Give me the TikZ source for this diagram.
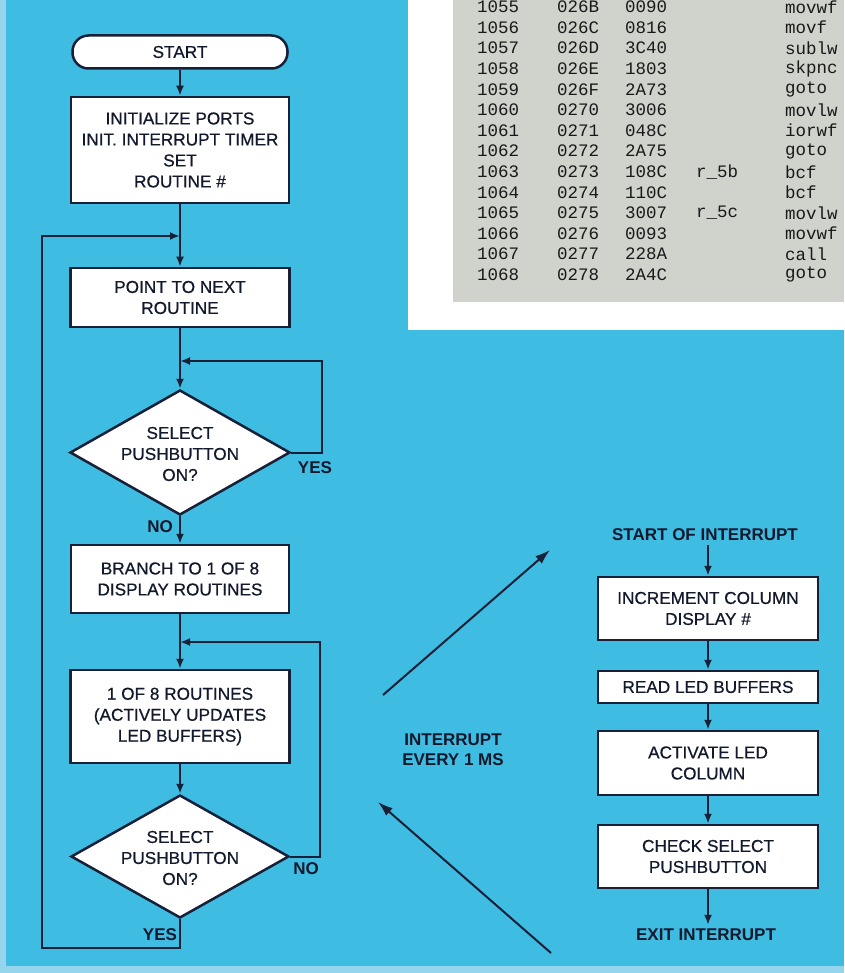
\documentclass[tikz,border=0pt]{standalone}
\usepackage{fontspec}
\setmainfont{Liberation Sans}
\setmonofont{Liberation Mono}
\newfontfamily\boxfam[FakeBold=0.6]{Liberation Sans}
\usetikzlibrary{arrows.meta,shapes.geometric}
\definecolor{bluebg}{RGB}{62,188,226}
\definecolor{bluelite}{RGB}{150,214,236}
\definecolor{ink}{RGB}{24,32,56}
\definecolor{greybox}{RGB}{208,211,204}
\newcommand\boxfont{\fontsize{17.2}{21}\boxfam}
\newcommand\lblfont{\fontsize{17}{20}\selectfont\bfseries}
\newcommand\codefont{\fontsize{17.5}{20}\ttfamily}
\tikzset{
  flowbox/.style={draw=ink, line width=2.5pt, fill=white, align=center, inner sep=0pt, font=\boxfont, text=ink!80!black},
  flowdia/.style={draw=ink, line width=2.5pt, fill=white, shape=diamond, inner sep=0pt},
  diatext/.style={align=center, font=\boxfont, text=ink!80!black},
  conn/.style={draw=ink, line width=2pt},
  arr/.style={conn, -{Latex[length=10pt,width=8pt]}},
  bigarr/.style={conn, -{Latex[length=15pt,width=10pt]}},
  lbl/.style={font=\lblfont, text=ink!80!black, inner sep=1pt},
  code/.style={font=\codefont, text=black!90, anchor=west, inner sep=0pt}
}
\begin{document}
\begin{tikzpicture}[x=1pt,y=-1pt]
\useasboundingbox (0,0) rectangle (844,973);
% backgrounds
\fill[bluebg] (0,0) rectangle (844,973);
\fill[bluelite] (0,0) rectangle (6,973);
\fill[bluelite] (0,966) rectangle (844,973);
\fill[white] (408,0) rectangle (844,330);
\fill[greybox] (453,0) rectangle (844,302);
% code listing
\foreach \i/\a/\b/\c/\l/\m in {0/1055/026B/0090//movwf,1/1056/026C/0816//movf,2/1057/026D/3C40//sublw,3/1058/026E/1803//skpnc,4/1059/026F/2A73//goto,5/1060/0270/3006//movlw,6/1061/0271/048C//iorwf,7/1062/0272/2A75//goto,8/1063/0273/108C/r\_5b/bcf,9/1064/0274/110C//bcf,10/1065/0275/3007/r\_5c/movlw,11/1066/0276/0093//movwf,12/1067/0277/228A//call,13/1068/0278/2A4C//goto}{
  \node[code] (ln\i) at (477,{7+20.6*\i}) {\a};
  \node[code] (ad\i) at (557,{7+20.6*\i}) {\b};
  \node[code] (op\i) at (625,{7+20.6*\i}) {\c};
  \node[code] (lb\i) at (696,{7+20.6*\i}) {\l};
  \node[code] (mn\i) at (785,{7+20.6*\i}) {\m};
}
% left flowchart
\node[flowbox, minimum width=215pt, minimum height=33pt, rounded corners=16pt] (start) at (180,52) {START};
\node[flowbox, minimum width=218pt, minimum height=106pt] (init) at (180,150) {INITIALIZE PORTS\\INIT. INTERRUPT TIMER\\SET\\ROUTINE \#};
\node[flowbox, minimum width=219pt, minimum height=59pt] (point) at (180,297.5) {POINT TO NEXT\\ROUTINE};
\node[flowdia, minimum width=220pt, minimum height=125pt] (d1) at (180,452.5) {};
\node[diatext] (d1t) at (180,454) {SELECT\\PUSHBUTTON\\ON?};
\node[flowbox, minimum width=218pt, minimum height=68pt] (branch) at (180,579) {BRANCH TO 1 OF 8\\DISPLAY ROUTINES};
\node[flowbox, minimum width=219pt, minimum height=93pt] (routines) at (180,716.5) {1 OF 8 ROUTINES\\(ACTIVELY UPDATES\\LED BUFFERS)};
\node[flowdia, minimum width=218pt, minimum height=123pt] (d2) at (180,856.5) {};
\node[diatext] (d2t) at (180,858) {SELECT\\PUSHBUTTON\\ON?};
\node[lbl] (yes1) at (315,468) {YES};
\node[lbl] (no1) at (160,527) {NO};
\node[lbl] (no2) at (306,869) {NO};
\node[lbl] (yes2) at (160,935) {YES};
\coordinate (j0) at (180,236);
\coordinate (j1) at (180,361);
\coordinate (j2) at (180,642);
\coordinate (c1) at (322,361);
\coordinate (c2) at (320,642);
\coordinate (cl) at (42,948);
\draw[arr] (start) -- (init);
\draw[arr] (init) -- (point);
\draw[arr] (point) -- (d1.north);
\draw[arr] (d1.south) -- (branch);
\draw[arr] (branch) -- (routines);
\draw[arr] (routines) -- (d2.north);
\draw[arr] (d1.east) -| (c1) -- (j1);
\draw[arr] (d2.east) -| (c2) -- (j2);
\draw[arr] (d2.south) |- (cl) |- (j0);
% interrupt flowchart
\node[lbl, inner sep=4pt] (soi) at (705,535) {START OF INTERRUPT};
\node[flowbox, minimum width=220pt, minimum height=63pt] (inc) at (708,608.5) {INCREMENT COLUMN\\DISPLAY \#};
\node[flowbox, minimum width=220pt, minimum height=32pt] (read) at (708,687) {READ LED BUFFERS};
\node[flowbox, minimum width=220pt, minimum height=64pt] (act) at (708,763) {ACTIVATE LED\\COLUMN};
\node[flowbox, minimum width=220pt, minimum height=63pt] (check) at (708,856.5) {CHECK SELECT\\PUSHBUTTON};
\node[lbl, inner sep=4pt] (exit) at (706,935) {EXIT INTERRUPT};
\draw[arr] (soi.south -| inc.north) -- (inc.north);
\draw[arr] (inc) -- (read);
\draw[arr] (read) -- (act);
\draw[arr] (act) -- (check);
\draw[arr] (check.south) -- (exit.north -| check.south);
\node[lbl, align=center] (irq) at (453,750) {INTERRUPT\\EVERY 1 MS};
\coordinate (a1s) at (383,695);
\coordinate (a1e) at (550,550);
\coordinate (a2s) at (551,953);
\coordinate (a2e) at (378,802);
\draw[bigarr] (a1s) -- (a1e);
\draw[bigarr] (a2s) -- (a2e);
\end{tikzpicture}
\end{document}
